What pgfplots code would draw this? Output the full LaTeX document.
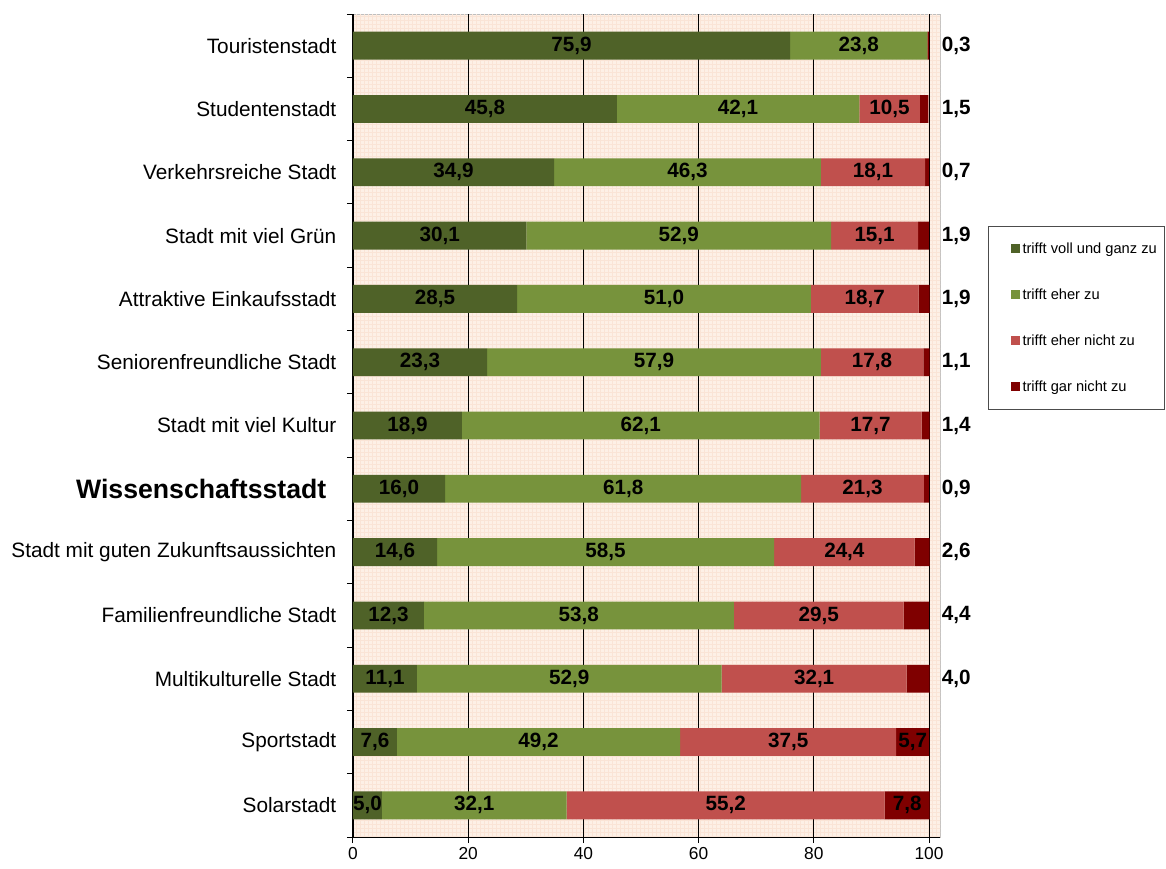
\documentclass[border=0pt]{standalone}
\usepackage{fontspec}
\setmainfont{Liberation Sans}
\usepackage{pgfplots}
\usepackage{pgfplotstable}
\pgfplotsset{compat=1.18}
\usetikzlibrary{patterns}

\definecolor{vollganz}{RGB}{79,98,40}
\definecolor{eherzu}{RGB}{119,147,60}
\definecolor{ehernicht}{RGB}{192,80,77}
\definecolor{garnicht}{RGB}{127,0,0}
\definecolor{peach}{RGB}{253,240,230}
\definecolor{peachgrid}{RGB}{250,228,214}

% rows from top to bottom
\pgfplotstableread{
idx v1   v2   v3   v4
0   75.9 23.8 0    0.3
1   45.8 42.1 10.5 1.5
2   34.9 46.3 18.1 0.7
3   30.1 52.9 15.1 1.9
4   28.5 51.0 18.7 1.9
5   23.3 57.9 17.8 1.1
6   18.9 62.1 17.7 1.4
7   16.0 61.8 21.3 0.9
8   14.6 58.5 24.4 2.6
9   12.3 53.8 29.5 4.4
10  11.1 52.9 32.1 4.0
11  7.6  49.2 37.5 5.7
12  5.0  32.1 55.2 7.8
}\umfrage

\begin{document}
\begin{tikzpicture}
\useasboundingbox (-264.75pt,-23.25pt) rectangle (609.75pt,627.75pt);
\begin{axis}[
    at={(0,0)}, anchor=south west,
    scale only axis,
    width=440.25pt, height=617.25pt,
    xbar stacked,
    bar width=0.44,
    xmin=0, xmax=101.9,
    ymin=-0.5, ymax=12.5,
    y dir=reverse,
    axis x line*=bottom,
    axis y line*=left,
    axis line style={black, line width=0.75pt},
    axis background/.style={fill=peach, draw=black!25, line width=0.75pt,
        postaction={pattern=grid, pattern color=peachgrid}},
    xtick={0,20,...,100},
    ytick={0,...,12},
    yticklabels={Touristenstadt, Studentenstadt, Verkehrsreiche Stadt,
        Stadt mit viel Grün, Attraktive Einkaufsstadt,
        Seniorenfreundliche Stadt, Stadt mit viel Kultur,
        {\fontsize{20}{24}\selectfont\bfseries Wissenschaftsstadt\kern7.5pt},
        Stadt mit guten Zukunftsaussichten, Familienfreundliche Stadt,
        Multikulturelle Stadt, Sportstadt, Solarstadt},
    minor ytick={-0.5,0.5,...,12.5},
    tick align=outside,
    major tick length=4.5pt,
    minor tick length=4.5pt,
    every major y tick/.style={draw=none},
    tick style={black, line width=0.75pt},
    xmajorgrids,
    major x grid style={black, line width=0.6pt},
    /pgf/number format/assume math mode=true,
    xticklabel style={font=\fontsize{13}{15}\selectfont},
    yticklabel style={font=\fontsize{15.6}{18}\selectfont, xshift=-4.5pt},
    point meta=explicit,
    nodes near coords={\pgfmathfloatifflags{\pgfplotspointmeta}{0}{}{\pgfmathprintnumber[fixed,fixed zerofill,precision=1,use comma]{\pgfplotspointmeta}}},
    every node near coord/.append style={font=\fontsize{15.5}{18}\selectfont\bfseries, text=black, anchor=center},
    legend image code/.code={\path[draw=none, fill=none] (0pt,-3.4pt) rectangle (12pt,3.4pt);
        \fill[#1] (12.75pt,-3.4pt) rectangle (19.5pt,3.4pt);},
    legend cell align=left,
    legend style={at={(1.0818,0.7424)}, anchor=north west,
        draw=black!70, line width=0.75pt, fill=white,
        font=\fontsize{11}{12}\selectfont,
        inner xsep=4pt, inner ysep=10pt, row sep=21pt},
]
% the labels of stacked bars sit at the middle of each piece
\addplot[fill=vollganz, draw=none] table[x=v1, y=idx, meta=v1] {\umfrage};
\addlegendentry{trifft voll und ganz zu}
\addplot[fill=eherzu, draw=none] table[x=v2, y=idx, meta=v2] {\umfrage};
\addlegendentry{trifft eher zu}
\addplot[fill=ehernicht, draw=none] table[x=v3, y=idx, meta=v3] {\umfrage};
\addlegendentry{trifft eher nicht zu}
% small values are written to the right of the bar, at about 104.7
\addplot[fill=garnicht, draw=none,
    visualization depends on={(\thisrow{v4}<5)*(104.7-\thisrow{v1}-\thisrow{v2}-\thisrow{v3}-0.5*\thisrow{v4})*4.32 \as \sh},
    every node near coord/.append style={xshift={\sh*1pt}}]
    table[x=v4, y=idx, meta=v4] {\umfrage};
\addlegendentry{trifft gar nicht zu}
\end{axis}
\end{tikzpicture}
\end{document}
